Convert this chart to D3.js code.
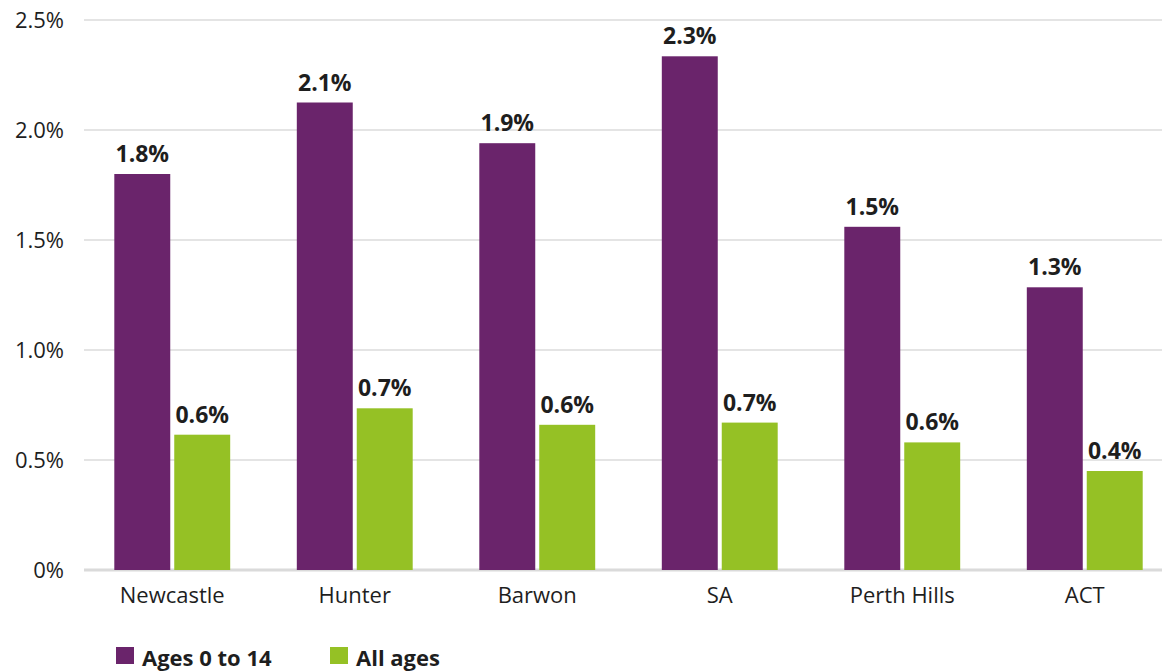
<!DOCTYPE html>
<html>
<head>
<meta charset="utf-8">
<script src="https://cdn.jsdelivr.net/npm/d3@7"></script>
<style>
  html, body { margin: 0; padding: 0; background: #ffffff; }
  svg { display: block; font-family: "Open Sans", "DejaVu Sans", sans-serif; }
</style>
</head>
<body>
<svg id="chart" width="1162" height="671"></svg>
<script>
const categories = ["Newcastle", "Hunter", "Barwon", "SA", "Perth Hills", "ACT"];
const seriesNames = ["Ages 0 to 14", "All ages"];
const ages0to14 = [1.80, 2.125, 1.94, 2.335, 1.56, 1.285];
const allAges = [0.615, 0.735, 0.66, 0.67, 0.58, 0.45];
const labels0to14 = ["1.8%", "2.1%", "1.9%", "2.3%", "1.5%", "1.3%"];
const labelsAll = ["0.6%", "0.7%", "0.6%", "0.7%", "0.6%", "0.4%"];
const yTicks = [0, 0.5, 1.0, 1.5, 2.0, 2.5];
const yTickLabels = ["0%", "0.5%", "1.0%", "1.5%", "2.0%", "2.5%"];
const colors = ["#6a246b", "#95c125"];

const svg = d3.select("#chart");
const textColor = "#1e1e1e";

const x = d3.scaleBand().domain(categories).range([81, 1176])
  .paddingInner(0.365).paddingOuter(0.1825);
const xs = d3.scaleBand().domain(seriesNames).range([0, x.bandwidth()])
  .paddingInner(4 / 60).paddingOuter(0);
const y = d3.scaleLinear().domain([0, 2.5]).range([570, 20]);

// gridlines
svg.append("g").selectAll("line").data(yTicks).join("line")
  .attr("x1", 84).attr("x2", 1162)
  .attr("y1", d => y(d)).attr("y2", d => y(d))
  .attr("stroke", d => d === 0 ? "#dadada" : "#e4e4e4")
  .attr("stroke-width", d => d === 0 ? 3 : 2);

// y tick labels
svg.append("g").selectAll("text").data(yTicks).join("text")
  .attr("x", 64).attr("y", d => y(d) + 8)
  .attr("text-anchor", "end")
  .attr("font-size", 22).attr("fill", textColor)
  .text((d, i) => yTickLabels[i]);

const data = categories.map((c, i) => ({
  cat: c,
  vals: [
    { s: seriesNames[0], v: ages0to14[i], label: labels0to14[i], color: colors[0] },
    { s: seriesNames[1], v: allAges[i], label: labelsAll[i], color: colors[1] }
  ]
}));

const groups = svg.append("g").selectAll("g").data(data).join("g")
  .attr("transform", d => `translate(${x(d.cat)},0)`);

groups.selectAll("rect").data(d => d.vals).join("rect")
  .attr("x", d => xs(d.s)).attr("width", xs.bandwidth())
  .attr("y", d => y(d.v)).attr("height", d => y(0) - y(d.v))
  .attr("fill", d => d.color);

groups.selectAll("text.val").data(d => d.vals).join("text")
  .attr("class", "val")
  .attr("x", d => xs(d.s) + xs.bandwidth() / 2)
  .attr("y", d => y(d.v) - 12)
  .attr("text-anchor", "middle")
  .attr("font-size", 23).attr("font-weight", "bold").attr("fill", textColor)
  .text(d => d.label);

// category labels
svg.append("g").selectAll("text").data(categories).join("text")
  .attr("x", d => x(d) + x.bandwidth() / 2)
  .attr("y", 603)
  .attr("text-anchor", "middle")
  .attr("font-size", 22).attr("fill", textColor)
  .text(d => d);

// legend
const legendX = [116, 330];
const leg = svg.append("g").selectAll("g").data(seriesNames).join("g")
  .attr("transform", (d, i) => `translate(${legendX[i]},647)`);
leg.append("rect").attr("width", 18).attr("height", 17)
  .attr("fill", (d, i) => colors[i]);
leg.append("text").attr("x", 26).attr("y", 19)
  .attr("font-size", 22).attr("font-weight", "bold").attr("fill", textColor)
  .text(d => d);
</script>
</body>
</html>
